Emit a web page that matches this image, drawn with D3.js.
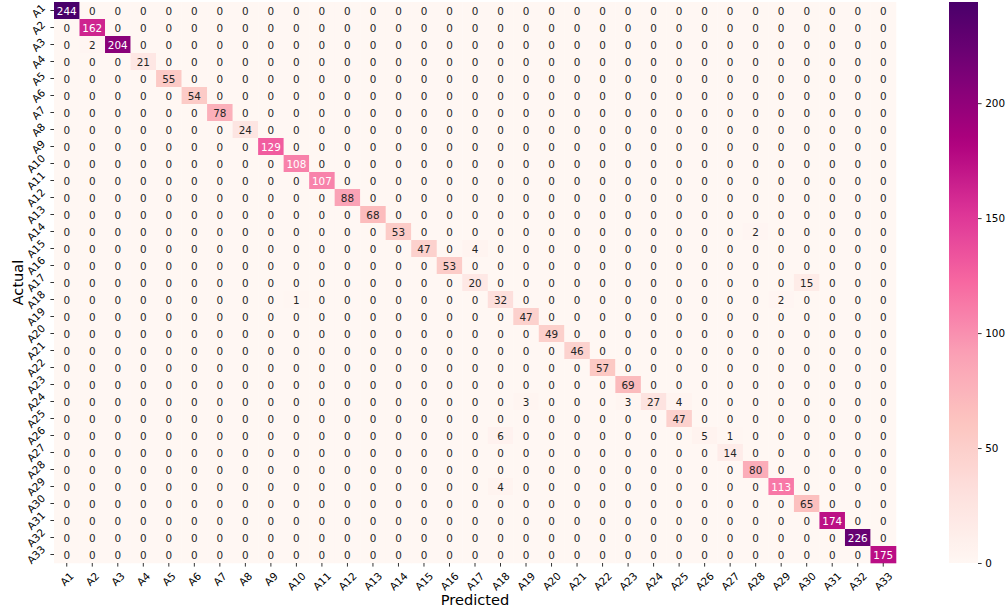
<!DOCTYPE html>
<html>
<head>
<meta charset="utf-8">
<script src="https://cdn.jsdelivr.net/npm/d3@7"></script>
<style>
  body { margin: 0; background: #fff; }
  text { font-family: "DejaVu Sans", sans-serif; }
</style>
</head>
<body>
<svg id="chart" width="1006" height="611"></svg>
<script>
// class labels (same for actual and predicted)
const labels = ["A1","A2","A3","A4","A5","A6","A7","A8","A9","A10","A11",
  "A12","A13","A14","A15","A16","A17","A18","A19","A20","A21","A22",
  "A23","A24","A25","A26","A27","A28","A29","A30","A31","A32","A33"];

// confusion matrix, rows = actual, columns = predicted (3 groups of 11 per row)
const counts = [
  [244,0,0,0,0,0,0,0,0,0,0,  0,0,0,0,0,0,0,0,0,0,0,  0,0,0,0,0,0,0,0,0,0,0],
  [0,162,0,0,0,0,0,0,0,0,0,  0,0,0,0,0,0,0,0,0,0,0,  0,0,0,0,0,0,0,0,0,0,0],
  [0,2,204,0,0,0,0,0,0,0,0,  0,0,0,0,0,0,0,0,0,0,0,  0,0,0,0,0,0,0,0,0,0,0],
  [0,0,0,21,0,0,0,0,0,0,0,  0,0,0,0,0,0,0,0,0,0,0,  0,0,0,0,0,0,0,0,0,0,0],
  [0,0,0,0,55,0,0,0,0,0,0,  0,0,0,0,0,0,0,0,0,0,0,  0,0,0,0,0,0,0,0,0,0,0],
  [0,0,0,0,0,54,0,0,0,0,0,  0,0,0,0,0,0,0,0,0,0,0,  0,0,0,0,0,0,0,0,0,0,0],
  [0,0,0,0,0,0,78,0,0,0,0,  0,0,0,0,0,0,0,0,0,0,0,  0,0,0,0,0,0,0,0,0,0,0],
  [0,0,0,0,0,0,0,24,0,0,0,  0,0,0,0,0,0,0,0,0,0,0,  0,0,0,0,0,0,0,0,0,0,0],
  [0,0,0,0,0,0,0,0,129,0,0,  0,0,0,0,0,0,0,0,0,0,0,  0,0,0,0,0,0,0,0,0,0,0],
  [0,0,0,0,0,0,0,0,0,108,0,  0,0,0,0,0,0,0,0,0,0,0,  0,0,0,0,0,0,0,0,0,0,0],
  [0,0,0,0,0,0,0,0,0,0,107,  0,0,0,0,0,0,0,0,0,0,0,  0,0,0,0,0,0,0,0,0,0,0],
  [0,0,0,0,0,0,0,0,0,0,0,  88,0,0,0,0,0,0,0,0,0,0,  0,0,0,0,0,0,0,0,0,0,0],
  [0,0,0,0,0,0,0,0,0,0,0,  0,68,0,0,0,0,0,0,0,0,0,  0,0,0,0,0,0,0,0,0,0,0],
  [0,0,0,0,0,0,0,0,0,0,0,  0,0,53,0,0,0,0,0,0,0,0,  0,0,0,0,0,2,0,0,0,0,0],
  [0,0,0,0,0,0,0,0,0,0,0,  0,0,0,47,0,4,0,0,0,0,0,  0,0,0,0,0,0,0,0,0,0,0],
  [0,0,0,0,0,0,0,0,0,0,0,  0,0,0,0,53,0,0,0,0,0,0,  0,0,0,0,0,0,0,0,0,0,0],
  [0,0,0,0,0,0,0,0,0,0,0,  0,0,0,0,0,20,0,0,0,0,0,  0,0,0,0,0,0,0,15,0,0,0],
  [0,0,0,0,0,0,0,0,0,1,0,  0,0,0,0,0,0,32,0,0,0,0,  0,0,0,0,0,0,2,0,0,0,0],
  [0,0,0,0,0,0,0,0,0,0,0,  0,0,0,0,0,0,0,47,0,0,0,  0,0,0,0,0,0,0,0,0,0,0],
  [0,0,0,0,0,0,0,0,0,0,0,  0,0,0,0,0,0,0,0,49,0,0,  0,0,0,0,0,0,0,0,0,0,0],
  [0,0,0,0,0,0,0,0,0,0,0,  0,0,0,0,0,0,0,0,0,46,0,  0,0,0,0,0,0,0,0,0,0,0],
  [0,0,0,0,0,0,0,0,0,0,0,  0,0,0,0,0,0,0,0,0,0,57,  0,0,0,0,0,0,0,0,0,0,0],
  [0,0,0,0,0,0,0,0,0,0,0,  0,0,0,0,0,0,0,0,0,0,0,  69,0,0,0,0,0,0,0,0,0,0],
  [0,0,0,0,0,0,0,0,0,0,0,  0,0,0,0,0,0,0,3,0,0,0,  3,27,4,0,0,0,0,0,0,0,0],
  [0,0,0,0,0,0,0,0,0,0,0,  0,0,0,0,0,0,0,0,0,0,0,  0,0,47,0,0,0,0,0,0,0,0],
  [0,0,0,0,0,0,0,0,0,0,0,  0,0,0,0,0,0,6,0,0,0,0,  0,0,0,5,1,0,0,0,0,0,0],
  [0,0,0,0,0,0,0,0,0,0,0,  0,0,0,0,0,0,0,0,0,0,0,  0,0,0,0,14,0,0,0,0,0,0],
  [0,0,0,0,0,0,0,0,0,0,0,  0,0,0,0,0,0,0,0,0,0,0,  0,0,0,0,0,80,0,0,0,0,0],
  [0,0,0,0,0,0,0,0,0,0,0,  0,0,0,0,0,0,4,0,0,0,0,  0,0,0,0,0,0,113,0,0,0,0],
  [0,0,0,0,0,0,0,0,0,0,0,  0,0,0,0,0,0,0,0,0,0,0,  0,0,0,0,0,0,0,65,0,0,0],
  [0,0,0,0,0,0,0,0,0,0,0,  0,0,0,0,0,0,0,0,0,0,0,  0,0,0,0,0,0,0,0,174,0,0],
  [0,0,0,0,0,0,0,0,0,0,0,  0,0,0,0,0,0,0,0,0,0,0,  0,0,0,0,0,0,0,0,0,226,0],
  [0,0,0,0,0,0,0,0,0,0,0,  0,0,0,0,0,0,0,0,0,0,0,  0,0,0,0,0,0,0,0,0,0,175]
];

const colorbarTicks = [0, 50, 100, 150, 200];

// matplotlib RdPu
const rdpu = ["#fff7f3","#fde0dd","#fcc5c0","#fa9fb5","#f768a1","#dd3497","#ae017e","#7a0177","#49006a"];

const svg = d3.select("#chart");
const fs = 10.4;     // annotation / tick font size
const tickLen = 3.6, pad = 3.6;

const vmax = d3.max(counts, r => d3.max(r));
const color = d3.scaleLinear()
  .domain(rdpu.map((c, i) => vmax * i / (rdpu.length - 1)))
  .range(rdpu)
  .interpolate(d3.interpolateRgb);

const x = d3.scaleBand().domain(labels).range([54, 896]);
const y = d3.scaleBand().domain(labels).range([2, 563]);

function lum(c) {
  const rgb = d3.rgb(c);
  const f = v => { v /= 255; return v <= 0.03928 ? v / 12.92 : Math.pow((v + 0.055) / 1.055, 2.4); };
  return 0.2126 * f(rgb.r) + 0.7152 * f(rgb.g) + 0.0722 * f(rgb.b);
}

let cells = [];
counts.forEach((row, i) => row.forEach((v, j) => cells.push({ actual: labels[i], pred: labels[j], v: v })));

svg.append("g").selectAll("rect").data(cells).join("rect")
  .attr("x", d => x(d.pred))
  .attr("y", d => y(d.actual))
  .attr("width", x.bandwidth() + 0.3)
  .attr("height", y.bandwidth() + 0.3)
  .attr("fill", d => color(d.v));

svg.append("g").selectAll("text").data(cells).join("text")
  .attr("x", d => x(d.pred) + x.bandwidth() / 2)
  .attr("y", d => y(d.actual) + y.bandwidth() / 2)
  .attr("text-anchor", "middle")
  .attr("dominant-baseline", "central")
  .attr("font-size", fs)
  .attr("fill", d => lum(color(d.v)) > 0.408 ? "#262626" : "#ffffff")
  .text(d => d.v);

// x axis
let xAxis = svg.append("g")
  .attr("transform", "translate(0,563)")
  .call(d3.axisBottom(x).tickSize(tickLen).tickSizeOuter(0));
xAxis.select(".domain").remove();
xAxis.selectAll(".tick line").attr("stroke", "#000").attr("stroke-width", 0.8);
xAxis.selectAll(".tick text").each(function () {
  const t = d3.select(this);
  t.attr("y", null).attr("dy", null).attr("x", null)
    .attr("font-size", fs).attr("fill", "#000")
    .attr("font-family", "DejaVu Sans")
    .attr("text-anchor", "middle").attr("dominant-baseline", "central");
  const L = this.getComputedTextLength();
  const w = (L + fs) * Math.SQRT1_2;
  t.attr("transform", `translate(0,${tickLen + pad + w / 2}) rotate(-45)`);
});

// y axis
let yAxis = svg.append("g")
  .attr("transform", "translate(54,0)")
  .call(d3.axisLeft(y).tickSize(tickLen).tickSizeOuter(0));
yAxis.select(".domain").remove();
yAxis.selectAll(".tick line").attr("stroke", "#000").attr("stroke-width", 0.8);
yAxis.selectAll(".tick text").each(function () {
  const t = d3.select(this);
  t.attr("y", null).attr("dy", null).attr("x", null)
    .attr("font-size", fs).attr("fill", "#000")
    .attr("font-family", "DejaVu Sans")
    .attr("text-anchor", "middle").attr("dominant-baseline", "central");
  const L = this.getComputedTextLength();
  const w = (L + fs) * Math.SQRT1_2;
  t.attr("transform", `translate(${-(tickLen + pad + w / 2)},0) rotate(-45)`);
});

// axis titles
svg.append("text")
  .attr("x", 475).attr("y", 599)
  .attr("text-anchor", "middle").attr("dominant-baseline", "central")
  .attr("font-size", 14.6)
  .text("Predicted");
svg.append("text")
  .attr("transform", "translate(17,282.5) rotate(-90)")
  .attr("text-anchor", "middle").attr("dominant-baseline", "central")
  .attr("font-size", 14.6)
  .text("Actual");

// colorbar
const cb = d3.scaleLinear().domain([0, vmax]).range([563, 2]);
const grad = svg.append("defs").append("linearGradient")
  .attr("id", "cbgrad").attr("x1", 0).attr("y1", 1).attr("x2", 0).attr("y2", 0);
d3.range(0, 1.0001, 0.02).forEach(t => {
  grad.append("stop").attr("offset", t).attr("stop-color", color(t * vmax));
});
svg.append("rect")
  .attr("x", 949).attr("y", cb(vmax))
  .attr("width", 29).attr("height", cb(0) - cb(vmax))
  .attr("fill", "url(#cbgrad)");

let cAxis = svg.append("g")
  .attr("transform", "translate(978,0)")
  .call(d3.axisRight(cb).tickValues(colorbarTicks).tickSize(tickLen).tickPadding(pad));
cAxis.select(".domain").remove();
cAxis.selectAll(".tick line").attr("stroke", "#000").attr("stroke-width", 0.8);
cAxis.selectAll(".tick text").attr("font-size", fs).attr("fill", "#000").attr("font-family", "DejaVu Sans");
</script>
</body>
</html>
